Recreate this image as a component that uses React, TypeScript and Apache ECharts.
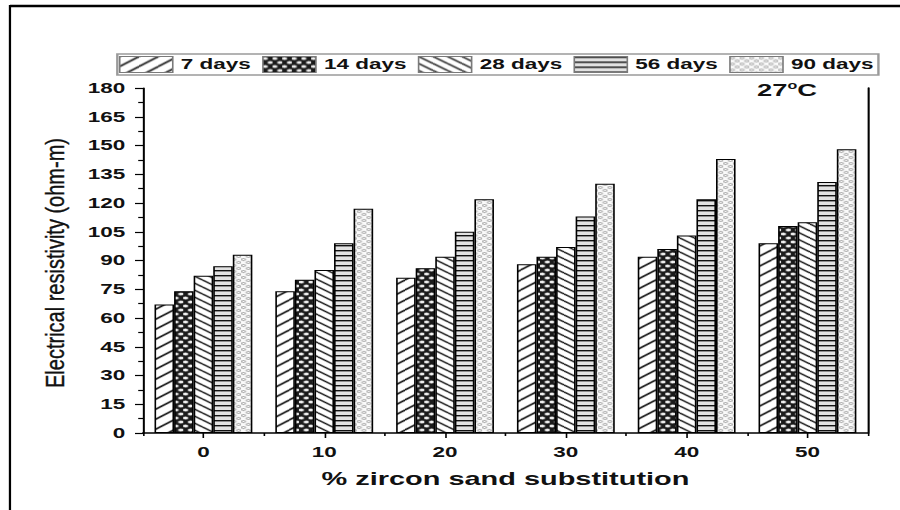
import React, { useEffect, useRef } from 'react';
import * as echarts from 'echarts';

const categories = ['0', '10', '20', '30', '40', '50'];
const seriesNames = ['7 days', '14 days', '28 days', '56 days', '90 days'];
const days7 = [67, 74, 81, 88, 92, 99];
const days14 = [74, 80, 86, 92, 96, 108];
const days28 = [82, 85, 92, 97, 103, 110];
const days56 = [87, 99, 105, 113, 122, 131];
const days90 = [93, 117, 122, 130, 143, 148];
const yTicks = { min: 0, max: 180, interval: 15 };

const FONT = '"Liberation Sans", Arial, sans-serif';
const W = 560;
const S = 900 / W;

type Drawer = (ctx: CanvasRenderingContext2D, w: number, h: number) => void;

function tile(w: number, h: number, bg: string, draw: Drawer) {
  const c = document.createElement('canvas');
  c.width = w;
  c.height = h;
  const ctx = c.getContext('2d')!;
  ctx.fillStyle = bg;
  ctx.fillRect(0, 0, w, h);
  draw(ctx, w, h);
  return { image: c, repeat: 'repeat', imageWidth: w, imageHeight: h };
}

function diag(ctx: CanvasRenderingContext2D, w: number, h: number, up: boolean, lw: number, color: string) {
  ctx.strokeStyle = color;
  ctx.lineWidth = lw;
  for (const dx of [-w, 0, w]) {
    for (const dy of [-h, 0, h]) {
      ctx.beginPath();
      if (up) {
        ctx.moveTo(dx, h + dy);
        ctx.lineTo(w + dx, dy);
      } else {
        ctx.moveTo(dx, dy);
        ctx.lineTo(w + dx, h + dy);
      }
      ctx.stroke();
    }
  }
}

export default function App() {
  const ref = useRef<HTMLDivElement>(null);

  useEffect(() => {
    const chart = echarts.init(ref.current!, null, { renderer: 'svg' });

    const p7 = tile(12, 10, '#ffffff', (ctx, w, h) => diag(ctx, w, h, true, 1.4, '#111'));
    const p28 = tile(9, 7, '#ffffff', (ctx, w, h) => diag(ctx, w, h, false, 1.3, '#111'));
    const p14 = tile(6, 8, '#1a1a1a', (ctx) => {
      ctx.fillStyle = '#f4f4f4';
      for (const [cx, cy] of [[1.5, 2], [4.5, 6], [-1.5, 6], [7.5, 6], [1.5, 10], [1.5, -2]]) {
        ctx.beginPath();
        ctx.arc(cx, cy, 1.55, 0, Math.PI * 2);
        ctx.fill();
      }
    });
    const p56 = tile(4, 5, '#e2e2e2', (ctx, w) => {
      ctx.fillStyle = '#111';
      ctx.fillRect(0, 0, w, 1.4);
    });
    const p90 = tile(6, 6, '#fbfbfb', (ctx) => {
      ctx.strokeStyle = '#8a8a8a';
      ctx.lineWidth = 0.8;
      for (const [cx, cy] of [[1.5, 1.5], [4.5, 4.5]]) {
        ctx.beginPath();
        ctx.arc(cx, cy, 1.1, 0, Math.PI * 2);
        ctx.stroke();
      }
    });

    const values = [days7, days14, days28, days56, days90];
    const patterns = [p7, p14, p28, p56, p90];

    const series = seriesNames.map((name, i) => ({
      name,
      type: 'bar',
      xAxisIndex: 0,
      yAxisIndex: 0,
      data: values[i],
      barGap: '0%',
      barCategoryGap: '19%',
      itemStyle: { color: patterns[i] as any, borderColor: '#000', borderWidth: 1 },
    }));

    const option: any = {
      animation: false,
      textStyle: { fontFamily: FONT },
      legend: {
        data: seriesNames,
        left: 73,
        top: 54,
        orient: 'horizontal',
        icon: 'rect',
        itemWidth: 33,
        itemHeight: 16,
        itemGap: 7,
        padding: [2, 3, 2, 1],
        backgroundColor: '#fff',
        borderColor: '#9a9a9a',
        borderWidth: 1.5,
        itemStyle: { borderColor: '#7a7a7a', borderWidth: 1 },
        textStyle: { fontFamily: FONT, fontWeight: 'bold', fontSize: 14, color: '#111' },
        selectedMode: false,
      },
      grid: { left: 89, right: 20, top: 88, bottom: 77, containLabel: false, outerBoundsMode: 'none' },
      xAxis: [
        {
          type: 'category',
          data: categories,
          position: 'bottom',
          boundaryGap: true,
          axisLine: { show: true, lineStyle: { color: '#000', width: 1.5 } },
          axisTick: { show: true, alignWithLabel: true, length: 5, lineStyle: { color: '#000', width: 1 } },
          axisLabel: { margin: 12, fontFamily: FONT, fontWeight: 'bold', fontSize: 14, color: '#111' },
          splitLine: { show: false },
          name: '% zircon sand substitution',
          nameLocation: 'middle',
          nameGap: 37,
          nameTextStyle: { fontFamily: FONT, fontWeight: 'bold', fontSize: 18, color: '#111' },
        },
        {
          type: 'category',
          data: categories,
          position: 'bottom',
          boundaryGap: true,
          axisLine: { show: false },
          axisTick: { show: true, alignWithLabel: false, length: 3, lineStyle: { color: '#000', width: 1 } },
          axisLabel: { show: false },
          splitLine: { show: false },
        },
      ],
      yAxis: [
        {
          type: 'value',
          position: 'left',
          min: yTicks.min,
          max: yTicks.max,
          interval: yTicks.interval,
          axisLine: { show: true, lineStyle: { color: '#000', width: 1.25 } },
          axisTick: { show: true, inside: false, length: 5, lineStyle: { color: '#000', width: 1.2 } },
          minorTick: { show: true, splitNumber: 2, length: 3, lineStyle: { color: '#000', width: 1.2 } },
          axisLabel: { margin: 11, fontFamily: FONT, fontWeight: 'bold', fontSize: 14, color: '#111' },
          splitLine: { show: false },
          minorSplitLine: { show: false },
        },
        {
          type: 'value',
          position: 'right',
          min: yTicks.min,
          max: yTicks.max,
          interval: yTicks.interval,
          axisLine: { show: true, lineStyle: { color: '#000', width: 1.3 } },
          axisTick: { show: false },
          axisLabel: { show: false },
          splitLine: { show: false },
        },
      ],
      series,
      graphic: [
        {
          type: 'line',
          shape: { x1: 6.2, y1: 6, x2: W, y2: 6 },
          style: { stroke: '#000', lineWidth: 2.5 },
          silent: true,
        },
        {
          type: 'line',
          shape: { x1: 6.2, y1: 5, x2: 6.2, y2: 510 },
          style: { stroke: '#000', lineWidth: 1.4 },
          silent: true,
        },
        {
          type: 'text',
          x: 34.2,
          y: 263,
          rotation: Math.PI / 2,
          scaleX: 1,
          scaleY: 1.3 / S,
          style: {
            text: 'Electrical resistivity (ohm-m)',
            fontFamily: FONT,
            fontSize: 20,
            fill: '#111',
            stroke: '#111',
            lineWidth: 0.3,
            textAlign: 'center',
            textVerticalAlign: 'middle',
          },
          silent: true,
        },
        {
          type: 'text',
          x: 489.7,
          y: 90,
          style: {
            text: '{n|27}{sup|o}{n|C}',
            textAlign: 'center',
            textVerticalAlign: 'middle',
            fill: '#111',
            rich: {
              n: { fontFamily: FONT, fontWeight: 'bold', fontSize: 17, fill: '#111', lineHeight: 18 },
              sup: { fontFamily: FONT, fontWeight: 'bold', fontSize: 10, fill: '#111', verticalAlign: 'top', lineHeight: 18 },
            },
          },
          silent: true,
        },
      ],
    };

    chart.setOption(option);
    return () => chart.dispose();
  }, []);

  return (
    <div
      ref={ref}
      style={{
        position: 'fixed',
        left: 0,
        top: 0,
        width: W,
        height: 510,
        transform: `scaleX(${S})`,
        transformOrigin: '0 0',
        background: '#fff',
      }}
    />
  );
}
